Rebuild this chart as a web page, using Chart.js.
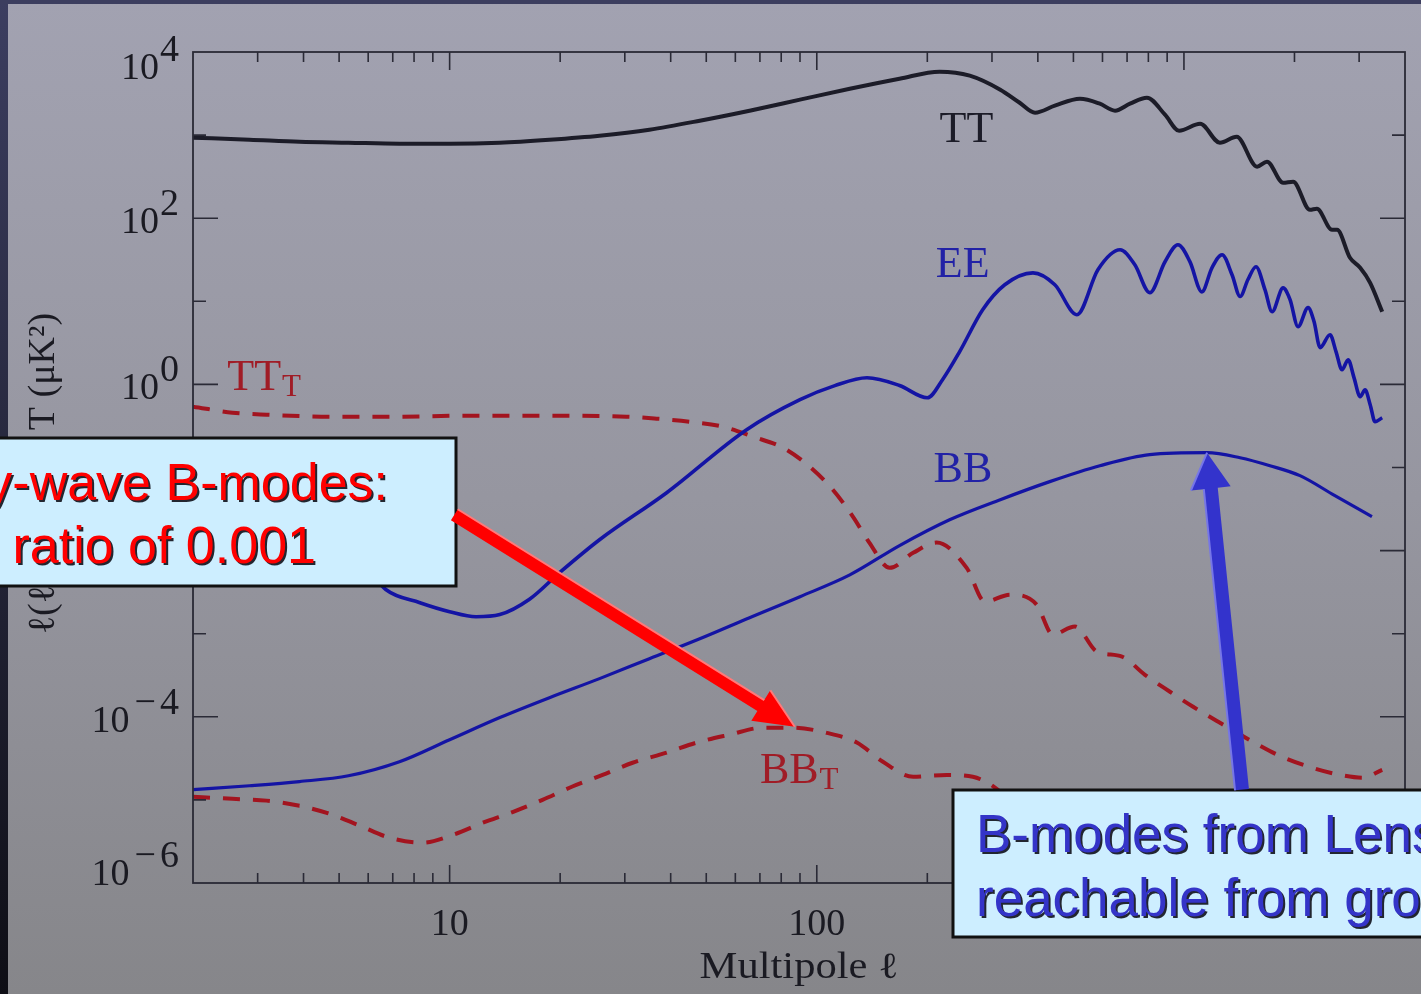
<!DOCTYPE html>
<html>
<head>
<meta charset="utf-8">
<title>CMB power spectra</title>
<script src="https://cdn.jsdelivr.net/npm/chart.js@4/dist/chart.umd.min.js"></script>
<style>
  html, body { margin: 0; padding: 0; background: #95959f; overflow: hidden; }
  #wrap { width: 1421px; height: 994px; }
</style>
</head>
<body>
<div id="wrap"><canvas id="chart" width="1421" height="994"></canvas></div>
<script>
// Multipole values and band powers l(l+1)C_l/2pi in uK^2
const ttEll = [2, 2.85, 3.9, 5.3, 7.3, 10, 13.7, 18.7, 25.6, 35, 48, 65.6, 90, 123, 168, 216, 261, 316, 357, 393, 445, 521, 590, 649, 713, 793, 888, 970, 1107, 1253, 1392, 1582, 1683, 1862, 1983, 2204, 2301, 2531, 2612, 2833, 3020, 3215, 3467];
const ttVal = [931, 881, 833, 811, 789, 789, 811, 881, 985, 1162, 1490, 1966, 2670, 3610, 4770, 5800, 5190, 3520, 2450, 1860, 2260, 2740, 2390, 1970, 2390, 2820, 1760, 1130, 1370, 809, 954, 417, 479, 267, 275, 126, 130, 72.6, 72.6, 33.4, 25.3, 16.7, 7.5];

const eeEll = [2, 3, 4, 5, 6, 6.7, 8.3, 10, 11.8, 13.7, 16.5, 19.9, 25.6, 39, 64.4, 90, 112, 137, 168, 200, 220, 245, 283, 325, 388, 445, 511, 583, 670, 735, 807, 888, 963, 1038, 1119, 1192, 1270, 1352, 1422, 1494, 1571, 1662, 1738, 1862, 1945, 2045, 2178, 2261, 2349, 2500, 2595, 2695, 2800, 2906, 3020, 3114, 3215, 3315, 3467];
const eeVal = [0.03, 0.035, 0.025, 0.012, 0.006, 3.4e-3, 2.36e-3, 1.84e-3, 1.6e-3, 1.7e-3, 2.6e-3, 5.4e-3, 0.0135, 0.0497, 0.285, 0.655, 0.966, 1.2, 0.97, 0.69, 1.14, 2.48, 7.9, 15.8, 22, 15.8, 6.9, 24, 41.7, 27.5, 12.7, 29.9, 48, 30, 13, 25.3, 36.3, 20.9, 11.4, 18.3, 26.1, 13.8, 7.5, 14.5, 10.5, 4.95, 8.4, 5.7, 2.77, 3.96, 2.48, 1.5, 1.98, 1.2, 0.71, 0.86, 0.57, 0.356, 0.397];

const bbEll = [2, 2.85, 3.9, 5.3, 7.3, 10, 13.7, 18.7, 25.6, 35, 48, 65.6, 90, 123, 168, 230, 316, 431, 590, 807, 1155, 1422, 1715, 2070, 2577, 3251];
const bbVal = [1.33e-5, 1.48e-5, 1.66e-5, 1.95e-5, 2.88e-5, 5.3e-5, 9.8e-5, 1.7e-4, 2.88e-4, 5e-4, 8.7e-4, 1.56e-3, 2.79e-3, 5.1e-3, 0.0115, 0.0235, 0.041, 0.0676, 0.105, 0.143, 0.151, 0.131, 0.105, 0.0798, 0.0458, 0.0256];

// tensor (gravity-wave) contributions
const ttTEll = [2, 2.56, 3.17, 4.8, 7.3, 11.1, 18.7, 30.3, 36.6, 45, 55.5, 67, 80.8, 95.7, 110.6, 125.4, 139, 158, 183, 212, 256, 287, 336, 397, 439, 505, 579, 678, 783, 916, 1059, 1240, 1542, 1849, 2233, 2661, 3074, 3467];
const ttTVal = [0.54, 0.457, 0.432, 0.409, 0.409, 0.42, 0.42, 0.409, 0.387, 0.356, 0.31, 0.235, 0.173, 0.102, 0.054, 0.0256, 0.0125, 6.2e-3, 9.4e-3, 0.0125, 6.2e-3, 2.43e-3, 2.95e-3, 2.24e-3, 9.8e-4, 1.22e-3, 6.1e-4, 5.3e-4, 3.2e-4, 2.0e-4, 1.32e-4, 8.7e-5, 5.0e-5, 3.3e-5, 2.44e-5, 2.0e-5, 1.85e-5, 2.3e-5];

const bbTEll = [2, 2.56, 3.17, 3.9, 4.71, 5.69, 6.87, 8.44, 10.2, 12.3, 14.9, 17.9, 21.6, 26.1, 31.5, 39, 47.1, 57.9, 71.3, 86.1, 106.5, 128.5, 151, 183, 226, 266, 296, 357, 450];
const bbTVal = [1.09e-5, 1.03e-5, 9.8e-6, 8.5e-6, 6.8e-6, 4.9e-6, 3.5e-6, 3.06e-6, 3.8e-6, 5.3e-6, 7.2e-6, 1.0e-5, 1.45e-5, 2.0e-5, 2.8e-5, 3.7e-5, 4.9e-5, 6.1e-5, 7.4e-5, 7.4e-5, 6.4e-5, 4.9e-5, 2.9e-5, 1.9e-5, 2.0e-5, 1.9e-5, 1.55e-5, 8e-6, 4e-6];

// axis ticks
const yLabelExps = [-6, -4, -2, 0, 2, 4];
const xTickLabels = [10, 100, 1000];

// curve names and where they sit (multipole, power)
const curveNames = [
  { text: 'TT', sub: '', ell: 216, val: 834, color: '#1c1c28' },
  { text: 'EE', sub: '', ell: 211, val: 19.8, color: '#2222a6' },
  { text: 'BB', sub: '', ell: 208, val: 0.0675, color: '#2222a6' },
  { text: 'TT', sub: 'T', ell: 2.48, val: 0.863, color: '#a01c26' },
  { text: 'BB', sub: 'T', ell: 70, val: 1.61e-5, color: '#a01c26' }
];

// callout arrows: from the text box to the feature it points at
const callouts = [
  { from: [10.3, 0.027], to: [87.1, 7.6e-5], color: '#ff0000', edge: '#ff7a7a', shaft: 13, headL: 40, headW: 36 },
  { from: [1439, 1.33e-5], to: [1156, 0.151], color: '#3333cc', edge: '#7676e8', shaft: 14, headL: 36, headW: 40 }
];

const SERIF = '"Liberation Serif", "DejaVu Serif", serif';
const SANS = '"Liberation Sans", Arial, sans-serif';

const pts = (ls, vs) => ls.map((l, i) => ({ x: l, y: vs[i] }));

function line(label, data, color, width, dash) {
  return {
    label: label,
    data: data,
    borderColor: color,
    borderWidth: width,
    borderDash: dash || [],
    pointRadius: 0,
    fill: false,
    cubicInterpolationMode: 'monotone'
  };
}

function arrow(ctx, x0, y0, x1, y1, a) {
  const dx = x1 - x0, dy = y1 - y0, len = Math.hypot(dx, dy);
  const ux = dx / len, uy = dy / len, nx = -uy, ny = ux;
  const bx = x1 - ux * a.headL, by = y1 - uy * a.headL;
  const s = a.shaft / 2, h = a.headW / 2;
  ctx.beginPath();
  ctx.moveTo(x0 + nx * s, y0 + ny * s);
  ctx.lineTo(bx + nx * s, by + ny * s);
  ctx.lineTo(bx + nx * h, by + ny * h);
  ctx.lineTo(x1, y1);
  ctx.lineTo(bx - nx * h, by - ny * h);
  ctx.lineTo(bx - nx * s, by - ny * s);
  ctx.lineTo(x0 - nx * s, y0 - ny * s);
  ctx.closePath();
  ctx.fillStyle = a.color;
  ctx.fill();
  // light bevel along one side
  ctx.beginPath();
  ctx.moveTo(x0 - nx * s, y0 - ny * s);
  ctx.lineTo(bx - nx * s, by - ny * s);
  ctx.moveTo(bx - nx * h, by - ny * h);
  ctx.lineTo(x1, y1);
  ctx.strokeStyle = a.edge;
  ctx.lineWidth = 2;
  ctx.stroke();
}

function textBox(ctx, x, y, w, h) {
  ctx.fillStyle = '#cdeeff';
  ctx.fillRect(x, y, w, h);
  ctx.lineWidth = 3;
  ctx.strokeStyle = '#111111';
  ctx.strokeRect(x, y, w, h);
}

const decor = {
  id: 'decor',
  beforeDraw(chart) {
    const ctx = chart.ctx, W = chart.width, H = chart.height;
    const g = ctx.createLinearGradient(0, 0, 0, H);
    g.addColorStop(0, '#a2a2b1');
    g.addColorStop(0.5, '#9696a0');
    g.addColorStop(1, '#86868a');
    ctx.fillStyle = g;
    ctx.fillRect(0, 0, W, H);
    const s = ctx.createLinearGradient(0, 0, 0, H);
    s.addColorStop(0, '#3c3e60');
    s.addColorStop(1, '#0e0e15');
    ctx.fillStyle = s;
    ctx.fillRect(0, 0, 8, H);
    ctx.fillStyle = '#3c3e5f';
    ctx.fillRect(0, 0, W, 4);
  },
  afterDatasetsDraw(chart) {
    const ctx = chart.ctx, a = chart.chartArea;
    const xs = chart.scales.x, ys = chart.scales.y;
    ctx.save();
    ctx.strokeStyle = '#2a2a36';
    ctx.lineWidth = 1.8;
    ctx.strokeRect(a.left, a.top, a.right - a.left, a.bottom - a.top);

    // log minor/major ticks, pointing inward
    ctx.lineWidth = 1.6;
    ctx.beginPath();
    for (let d = 1; d <= 1000; d *= 10) {
      for (let m = 1; m <= 9; m++) {
        const v = m * d;
        if (v <= 2 || v >= 4000) continue;
        const px = xs.getPixelForValue(v);
        const len = m === 1 ? 18 : 10;
        ctx.moveTo(px, a.bottom); ctx.lineTo(px, a.bottom - len);
        ctx.moveTo(px, a.top); ctx.lineTo(px, a.top + len);
      }
    }
    for (let e = -5; e <= 3; e++) {
      const py = ys.getPixelForValue(Math.pow(10, e));
      const len = e % 2 === 0 ? 25 : 13;
      ctx.moveTo(a.left, py); ctx.lineTo(a.left + len, py);
      ctx.moveTo(a.right, py); ctx.lineTo(a.right - len, py);
    }
    ctx.stroke();

    // tick labels
    ctx.fillStyle = '#1a1a22';
    ctx.font = '38px ' + SERIF;
    ctx.textBaseline = 'alphabetic';
    yLabelExps.forEach(e => {
      const py = ys.getPixelForValue(Math.pow(10, e));
      let shift = 0;
      if (py - 30 < a.top) shift = 12;
      if (py + 15 > a.bottom) shift = -13;
      const digit = String(Math.abs(e));
      ctx.textAlign = 'right';
      let right = a.left - 14;
      ctx.fillText(digit, right, py - 3 + shift);
      right -= ctx.measureText(digit).width;
      if (e < 0) {
        right -= 4;
        ctx.fillText('\u2212', right, py - 3 + shift);
        right -= ctx.measureText('\u2212').width + 5;
      } else {
        right -= 1;
      }
      ctx.fillText('10', right, py + 15 + shift);
    });
    ctx.textAlign = 'center';
    xTickLabels.forEach(v => {
      ctx.fillText(String(v), xs.getPixelForValue(v), a.bottom + 52);
    });

    // axis titles
    ctx.save();
    ctx.translate((a.left + a.right) / 2, a.bottom + 95);
    ctx.scale(1.15, 1);
    ctx.font = '37px ' + SERIF;
    ctx.fillText('Multipole \u2113', 0, 0);
    ctx.restore();
    ctx.save();
    ctx.translate(54, (a.top + a.bottom) / 2 + 6);
    ctx.rotate(-Math.PI / 2);
    ctx.font = '38px ' + SERIF;
    ctx.textAlign = 'center';
    ctx.fillText('\u2113(\u2113+1)C\u2113/2\u03c0 T (\u03bcK\u00b2)', 0, 0);
    ctx.restore();

    // curve names
    ctx.textAlign = 'left';
    curveNames.forEach(c => {
      const px = xs.getPixelForValue(c.ell), py = ys.getPixelForValue(c.val);
      ctx.fillStyle = c.color;
      ctx.font = '44px ' + SERIF;
      ctx.fillText(c.text, px, py);
      if (c.sub) {
        const w = ctx.measureText(c.text).width;
        ctx.font = '31px ' + SERIF;
        ctx.fillText(c.sub, px + w + 1, py + 6);
      }
    });
    ctx.restore();
  },
  afterDraw(chart) {
    const ctx = chart.ctx;
    const xs = chart.scales.x, ys = chart.scales.y;
    ctx.save();
    textBox(ctx, -10, 438, 466, 148);
    textBox(ctx, 953, 790, 500, 147);

    callouts.forEach(c => {
      arrow(ctx,
        xs.getPixelForValue(c.from[0]), ys.getPixelForValue(c.from[1]),
        xs.getPixelForValue(c.to[0]), ys.getPixelForValue(c.to[1]), c);
    });

    ctx.shadowColor = 'rgba(15,15,25,0.9)';
    ctx.shadowOffsetX = 2;
    ctx.shadowOffsetY = 2;
    ctx.shadowBlur = 0;
    ctx.textBaseline = 'alphabetic';
    ctx.font = '52px ' + SANS;
    ctx.fillStyle = '#ff0000';
    ctx.textAlign = 'right';
    ctx.fillText('Gravity-wave B-modes:', 388, 500);
    ctx.fillText('tensor ratio of 0.001', 316, 563);

    ctx.font = '53px ' + SANS;
    ctx.fillStyle = '#3434c8';
    ctx.textAlign = 'left';
    ctx.fillText('B-modes from Lensing', 976, 852);
    ctx.fillText('reachable from ground', 976, 916);
    ctx.restore();
  }
};

const ctx = document.getElementById('chart').getContext('2d');
new Chart(ctx, {
  type: 'line',
  data: {
    datasets: [
      line('TT', pts(ttEll, ttVal), '#1c1c28', 4),
      line('EE', pts(eeEll, eeVal), '#1414a4', 3.6),
      line('BB', pts(bbEll, bbVal), '#1414a4', 3.2),
      line('TT_T', pts(ttTEll, ttTVal), '#a3141f', 4, [17, 13]),
      line('BB_T', pts(bbTEll, bbTVal), '#a3141f', 4, [17, 13])
    ]
  },
  options: {
    responsive: false,
    animation: false,
    devicePixelRatio: 1,
    events: [],
    layout: { padding: { left: 193, top: 52, right: 16, bottom: 111 } },
    plugins: { legend: { display: false }, tooltip: { enabled: false } },
    scales: {
      x: { type: 'logarithmic', min: 2, max: 4000, display: false },
      y: { type: 'logarithmic', min: 1e-6, max: 1e4, display: false }
    }
  },
  plugins: [decor]
});
</script>
</body>
</html>
